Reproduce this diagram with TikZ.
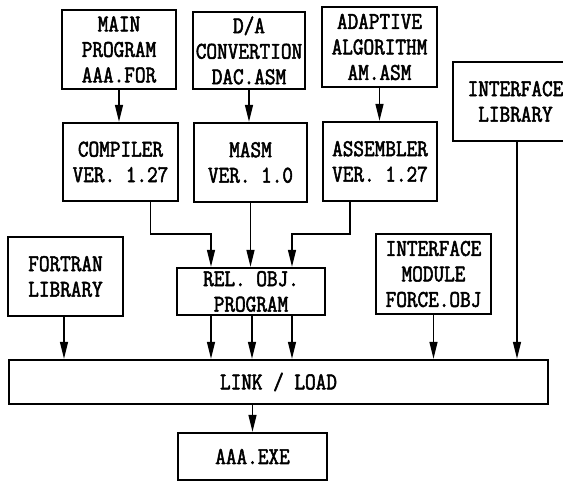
\documentclass[tikz,border=0pt]{standalone}
\usepackage{fontspec}
\newfontfamily\boxfont{Latin Modern Mono}[FakeStretch=0.86,FakeBold=2.2]
\usetikzlibrary{arrows.meta}
\begin{document}
\begin{tikzpicture}[x=1pt,y=-1pt,
  box/.style={draw, line width=2.4pt, align=center, inner sep=0pt,
    font=\boxfont\fontsize{24}{25.5}\selectfont},
  arr/.style={line width=1.6pt, -{Triangle[length=17pt,width=8pt]}},
  ]
\useasboundingbox (0,0) rectangle (563,481);
\node[box, minimum width=114pt, minimum height=79pt] (main)  at (119,49.5)  {MAIN\\PROGRAM\\AAA.FOR};
\node[box, minimum width=112pt, minimum height=77pt] (da)    at (249,50.5)  {D/A\\CONVERTION\\DAC.ASM};
\node[box, minimum width=115pt, minimum height=80pt] (adapt) at (379.5,47)  {ADAPTIVE\\ALGORITHM\\AM.ASM};
\node[box, minimum width=125pt, minimum height=79pt] (ilib)  at (515.5,101.5) {INTERFACE\\LIBRARY};
\node[box, minimum width=115pt, minimum height=78pt] (comp)  at (120.5,162) {COMPILER\\VER. 1.27};
\node[box, minimum width=113pt, minimum height=79pt] (masm)  at (250.5,162.5) {MASM\\VER. 1.0};
\node[box, minimum width=114pt, minimum height=79pt] (asm)   at (380,161.5) {ASSEMBLER\\VER. 1.27};
\node[box, minimum width=148pt, minimum height=47pt] (rel)   at (251,291.5) {REL. OBJ.\\PROGRAM};
\node[box, minimum width=115pt, minimum height=79pt] (flib)  at (65.5,276.5) {FORTRAN\\LIBRARY};
\node[box, minimum width=115pt, minimum height=80pt] (imod)  at (433.5,274) {INTERFACE\\MODULE\\FORCE.OBJ};
\node[box, minimum width=539pt, minimum height=44pt] (link)  at (278.5,382) {LINK / LOAD};
\node[box, minimum width=149pt, minimum height=47pt] (exe)   at (252.5,456.5) {AAA.EXE};

\draw[arr] (main.south) -- (main.south |- comp.north);
\draw[arr] (da.south) -- (da.south |- masm.north);
\draw[arr] (adapt.south) -- (adapt.south |- asm.north);

\draw[arr] ([xshift=30pt]comp.south) -- ++(0,32) -| ([xshift=-40pt]rel.north);
\draw[arr] (masm.south) -- (masm.south |- rel.north);
\draw[arr] ([xshift=-30pt]asm.south) -- ++(0,32) -| ([xshift=41pt]rel.north);

\draw[arr] ([xshift=-40pt]rel.south) -- ([xshift=-40pt]rel.south |- link.north);
\draw[arr] ([xshift=1pt]rel.south) -- ([xshift=1pt]rel.south |- link.north);
\draw[arr] ([xshift=41pt]rel.south) -- ([xshift=41pt]rel.south |- link.north);

\draw[arr] ([xshift=-1.5pt]flib.south) -- ([xshift=-1.5pt]flib.south |- link.north);
\draw[arr] (imod.south) -- (imod.south |- link.north);
\draw[arr] ([xshift=1.5pt]ilib.south) -- ([xshift=1.5pt]ilib.south |- link.north);

\draw[arr] (link.south -| exe.north) -- (exe.north);
\end{tikzpicture}
\end{document}
